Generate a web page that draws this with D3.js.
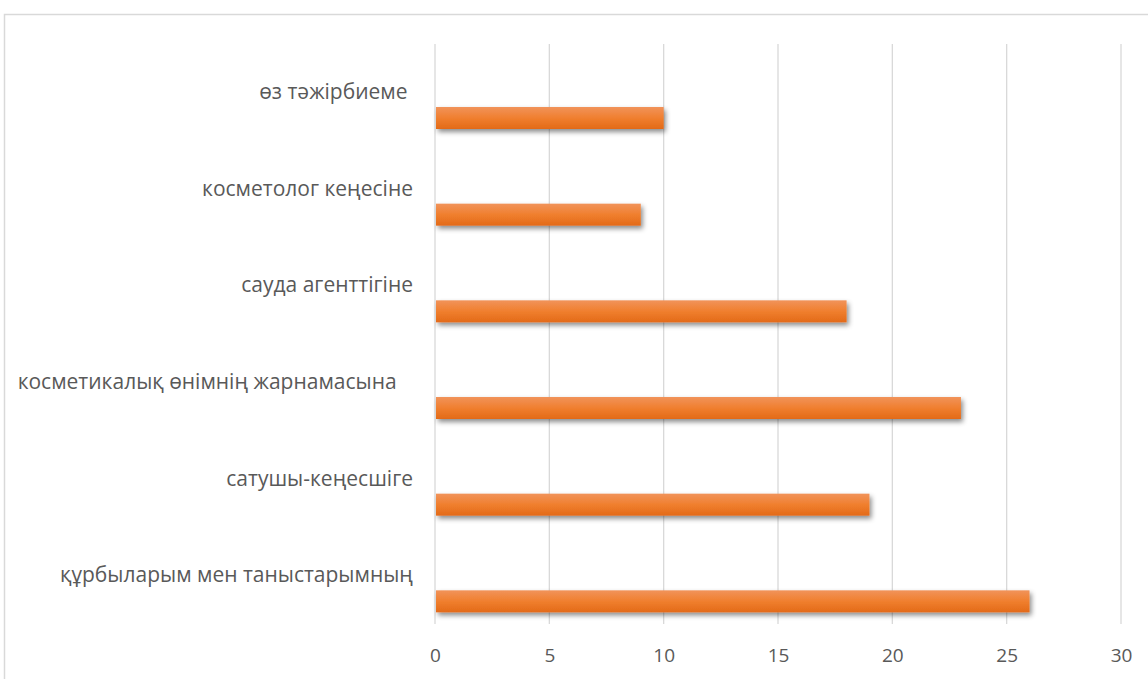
<!DOCTYPE html>
<html><head><meta charset="utf-8">
<script src="https://cdn.jsdelivr.net/npm/d3@7"></script>
<style>body{margin:0;background:#fff;}svg{display:block;}</style>
</head><body>
<script>
const categories = ["өз тәжірбиеме ", "косметолог кеңесіне", "сауда агенттігіне", "косметикалық өнімнің жарнамасына   ", "сатушы-кеңесшіге", "құрбыларым мен таныстарымның"];
const values = [10, 9, 18, 23, 19, 26];
const ticks = [0, 5, 10, 15, 20, 25, 30];

const W = 1148, H = 679;
const svg = d3.select("body").append("svg").attr("width", W).attr("height", H);
const defs = svg.append("defs");
const grad = defs.append("linearGradient").attr("id","barGrad").attr("x1",0).attr("y1",0).attr("x2",0).attr("y2",1);
grad.append("stop").attr("offset","0%").attr("stop-color","#F1935A");
grad.append("stop").attr("offset","50%").attr("stop-color","#F07F2E");
grad.append("stop").attr("offset","100%").attr("stop-color","#E36A18");
const f = defs.append("filter").attr("id","shadow").attr("x","-10%").attr("y","-50%").attr("width","130%").attr("height","250%");
f.append("feDropShadow").attr("dx",2).attr("dy",3).attr("stdDeviation",2.5).attr("flood-color","#000").attr("flood-opacity",0.45);

// outer frame
svg.append("path").attr("d", `M4.5,${H+5} L4.5,14.5 L${W+5},14.5`).attr("fill","none").attr("stroke","#D9D9D9").attr("stroke-width",1.5);

const x = d3.scaleLinear().domain([0,30]).range([435, 1121]);
const y = d3.scaleBand().domain(categories).range([44, 624]);

// gridlines
svg.append("g").selectAll("line").data(ticks).join("line")
  .attr("x1", d=>x(d)).attr("x2", d=>x(d)).attr("y1",44).attr("y2",624)
  .attr("stroke","#D9D9D9").attr("stroke-width",1.3);

// bars
svg.append("g").selectAll("rect").data(values).join("rect")
  .attr("x", x(0)+1).attr("y", (d,i)=>y(categories[i]) + 63)
  .attr("width", d=>x(d)-x(0)-1).attr("height", 22)
  .attr("fill","url(#barGrad)").attr("filter","url(#shadow)");

// category labels
svg.append("g").selectAll("text").data(categories).join("text")
  .attr("x", 413).attr("y", d=>y(d)+y.bandwidth()/2 + 1)
  .attr("text-anchor","end").attr("dominant-baseline","middle")
  .attr("font-family","Open Sans, sans-serif").attr("font-size",21).attr("fill","#595959")
  .attr("xml:space","preserve").style("white-space","pre")
  .text(d=>d);

// x axis
const xAxis = d3.axisBottom(x).tickValues(ticks).tickSize(0).tickPadding(0);
const gx = svg.append("g").attr("transform","translate(0,657)").call(xAxis);
gx.select(".domain").remove();
gx.selectAll("text").attr("font-family","Open Sans, sans-serif").attr("font-size",19).attr("fill","#595959").attr("dy",null).attr("y",0).attr("dominant-baseline","middle");
</script>
</body></html>
